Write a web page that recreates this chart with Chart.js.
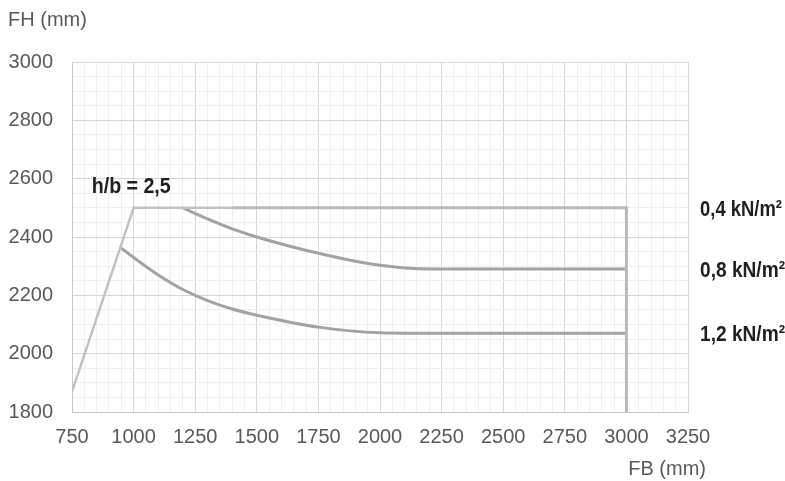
<!DOCTYPE html>
<html>
<head>
<meta charset="utf-8">
<script src="https://cdn.jsdelivr.net/npm/chart.js@4/dist/chart.umd.min.js"></script>
<style>
  html, body { margin: 0; padding: 0; background: #ffffff; }
  #wrap { width: 785px; height: 481px; position: relative; }
</style>
</head>
<body>
<div id="wrap"><canvas id="c" width="785" height="481"></canvas></div>
<script>
// ---- data ----
const xMajorTicks = [750, 1000, 1250, 1500, 1750, 2000, 2250, 2500, 2750, 3000, 3250];
const yMajorTicks = [1800, 2000, 2200, 2400, 2600, 2800, 3000];
const minorStep = 50;

const riseX = [750, 1000, 1400];
const riseY = [1870, 2500, 2500];

const load04X = [1400, 3000, 3000];
const load04Y = [2500, 2500, 1800];

const load08X = [1200, 1300, 1400, 1500, 1600, 1750, 1900, 2000, 2100, 2250, 3000];
const load08Y = [2500, 2462, 2428, 2400, 2376, 2344, 2317, 2303, 2294, 2290, 2290];

const load12X = [950, 1000, 1100, 1200, 1300, 1400, 1500, 1750, 2000, 2250, 3000];
const load12Y = [2362, 2330, 2270, 2220, 2182, 2153, 2132, 2091, 2072, 2070, 2070];

const seriesLabels = ['0,4 kN/m²', '0,8 kN/m²', '1,2 kN/m²'];
const seriesLabelValues = [2500, 2290, 2070];
const ratioLabel = 'h/b = 2,5';
const ratioLabelPos = [830, 2572];
const xTitle = 'FB (mm)';
const yTitle = 'FH (mm)';

// ---- helpers ----
function pts(xs, ys) { return xs.map((x, i) => ({ x: x, y: ys[i] })); }
function range(a, b, s) { const r = []; for (let v = a; v <= b; v += s) r.push(v); return r; }

const xAll = range(xMajorTicks[0], xMajorTicks[xMajorTicks.length - 1], minorStep);
const yAll = range(yMajorTicks[0], yMajorTicks[yMajorTicks.length - 1], minorStep);

const tickFont = { family: "'Liberation Sans', Arial, sans-serif", size: 20 };
const boldFont = "bold 22px 'Liberation Sans', Arial, sans-serif";

function condensedText(ctx, text, x, y, targetWidth) {
  const w = ctx.measureText(text).width;
  const k = targetWidth / w;
  ctx.save();
  ctx.translate(x, y);
  ctx.scale(k, 1);
  ctx.fillText(text, 0, 0);
  ctx.restore();
}

const textPlugin = {
  id: 'texts',
  afterDraw(chart) {
    const ctx = chart.ctx, ca = chart.chartArea;
    const xs = chart.scales.x, ys = chart.scales.y;
    ctx.save();
    ctx.fillStyle = '#595959';
    ctx.font = "20px 'Liberation Sans', Arial, sans-serif";
    ctx.textBaseline = 'middle';
    ctx.textAlign = 'left';
    ctx.fillText(yTitle, 8, 20);
    ctx.textAlign = 'right';
    ctx.fillText(xTitle, ca.right + 18, 469);

    ctx.fillStyle = '#1f1f1f';
    ctx.font = boldFont;
    ctx.textAlign = 'left';
    condensedText(ctx, ratioLabel, xs.getPixelForValue(ratioLabelPos[0]), ys.getPixelForValue(ratioLabelPos[1]), 79);
    const widths = [82, 85, 85];
    seriesLabels.forEach((t, i) => {
      condensedText(ctx, t, ca.right + 12, ys.getPixelForValue(seriesLabelValues[i]) + 2, widths[i]);
    });
    ctx.restore();
  }
};

const lineBase = { showLine: true, pointRadius: 0, pointHoverRadius: 0, fill: false, borderCapStyle: 'butt', borderJoinStyle: 'miter' };

new Chart(document.getElementById('c'), {
  type: 'scatter',
  data: {
    datasets: [
      Object.assign({ label: 'rise', data: pts(riseX, riseY), borderColor: '#c2c2c2', borderWidth: 2.5, tension: 0 }, lineBase),
      Object.assign({ label: '0,4', data: pts(load04X, load04Y), borderColor: '#b9b9b9', borderWidth: 3, tension: 0 }, lineBase),
      Object.assign({ label: '0,8', data: pts(load08X, load08Y), borderColor: '#a3a3a3', borderWidth: 3, cubicInterpolationMode: 'monotone' }, lineBase),
      Object.assign({ label: '1,2', data: pts(load12X, load12Y), borderColor: '#a3a3a3', borderWidth: 3, cubicInterpolationMode: 'monotone' }, lineBase)
    ]
  },
  options: {
    responsive: false,
    animation: false,
    events: [],
    layout: { padding: { left: 9, right: 97, top: 62, bottom: 34 } },
    plugins: { legend: { display: false }, tooltip: { enabled: false }, title: { display: false } },
    scales: {
      x: {
        type: 'linear',
        min: xMajorTicks[0],
        max: xMajorTicks[xMajorTicks.length - 1],
        afterBuildTicks: (s) => { s.ticks = xAll.map(v => ({ value: v })); },
        afterFit: (s) => { s.height = 35; },
        ticks: {
          autoSkip: false, maxRotation: 0, minRotation: 0, padding: 13,
          color: '#595959', font: tickFont,
          callback: (v) => (xMajorTicks.includes(v) ? String(v) : '')
        },
        grid: {
          drawTicks: false,
          lineWidth: 1,
          color: (c) => (c.tick && xMajorTicks.includes(c.tick.value) ? '#d6d6d6' : '#efefef')
        },
        border: { color: '#c8c8c8', width: 1 }
      },
      y: {
        type: 'linear',
        min: yMajorTicks[0],
        max: yMajorTicks[yMajorTicks.length - 1],
        afterBuildTicks: (s) => { s.ticks = yAll.map(v => ({ value: v })); },
        afterFit: (s) => { s.width = 63; },
        ticks: {
          autoSkip: false, padding: 19,
          color: '#595959', font: tickFont,
          callback: (v) => (yMajorTicks.includes(v) ? String(v) : '')
        },
        grid: {
          drawTicks: false,
          lineWidth: 1,
          color: (c) => (c.tick && yMajorTicks.includes(c.tick.value) ? '#d6d6d6' : '#efefef')
        },
        border: { color: '#c8c8c8', width: 1 }
      }
    }
  },
  plugins: [textPlugin]
});
</script>
</body>
</html>
